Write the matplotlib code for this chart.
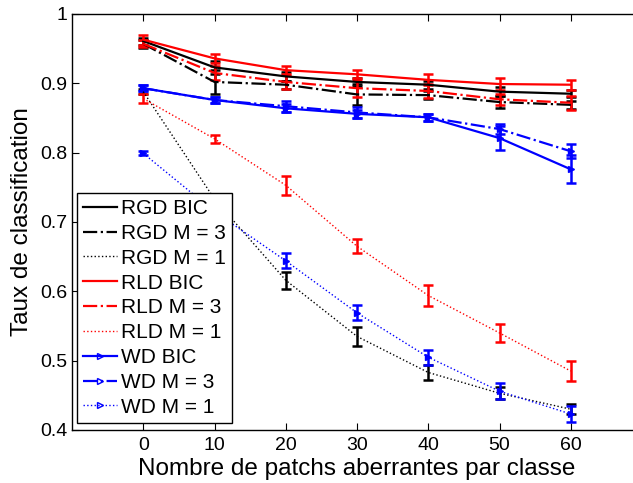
import matplotlib.pyplot as plt
from matplotlib.lines import Line2D

plt.rcParams['font.family'] = ['Liberation Sans', 'DejaVu Sans']

outliers = [0, 10, 20, 30, 40, 50, 60]

rgd_bic = [0.961, 0.923, 0.910, 0.902, 0.898, 0.888, 0.885]
rgd_bic_err = [0.005, 0.009, 0.006, 0.006, 0.006, 0.006, 0.005]
rgd_m3 = [0.957, 0.902, 0.898, 0.884, 0.883, 0.873, 0.869]
rgd_m3_err = [0.006, 0.017, 0.006, 0.015, 0.006, 0.009, 0.006]
rgd_m1 = [0.888, 0.733, 0.616, 0.535, 0.483, 0.453, 0.430]
rgd_m1_err = [0.004, 0.008, 0.012, 0.014, 0.011, 0.009, 0.007]

rld_bic = [0.963, 0.936, 0.919, 0.913, 0.905, 0.899, 0.898]
rld_bic_err = [0.007, 0.006, 0.006, 0.006, 0.008, 0.008, 0.007]
rld_m3 = [0.957, 0.915, 0.902, 0.893, 0.889, 0.877, 0.872]
rld_m3_err = [0.005, 0.010, 0.010, 0.012, 0.010, 0.008, 0.010]
rld_m1 = [0.878, 0.820, 0.753, 0.665, 0.594, 0.540, 0.485]
rld_m1_err = [0.007, 0.006, 0.014, 0.010, 0.015, 0.013, 0.015]

wd_bic = [0.893, 0.876, 0.864, 0.856, 0.851, 0.821, 0.776]
wd_bic_err = [0.004, 0.004, 0.006, 0.006, 0.005, 0.017, 0.020]
wd_m3 = [0.893, 0.876, 0.867, 0.858, 0.851, 0.834, 0.802]
wd_m3_err = [0.004, 0.004, 0.008, 0.008, 0.005, 0.007, 0.010]
wd_m1 = [0.799, 0.715, 0.644, 0.569, 0.505, 0.456, 0.423]
wd_m1_err = [0.003, 0.005, 0.011, 0.011, 0.011, 0.012, 0.011]

series = [
    ('RGD BIC', rgd_bic, rgd_bic_err, 'black', '-', None, 1.6),
    ('RGD M = 3', rgd_m3, rgd_m3_err, 'black', '-.', None, 1.6),
    ('RGD M = 1', rgd_m1, rgd_m1_err, 'black', ':', None, 1.0),
    ('RLD BIC', rld_bic, rld_bic_err, 'red', '-', None, 1.6),
    ('RLD M = 3', rld_m3, rld_m3_err, 'red', '-.', None, 1.6),
    ('RLD M = 1', rld_m1, rld_m1_err, 'red', ':', None, 1.0),
    ('WD BIC', wd_bic, wd_bic_err, 'blue', '-', '>', 1.6),
    ('WD M = 3', wd_m3, wd_m3_err, 'blue', '-.', '>', 1.6),
    ('WD M = 1', wd_m1, wd_m1_err, 'blue', ':', '>', 1.0),
]

fig = plt.figure(figsize=(6.33, 4.83), dpi=100)
ax = fig.add_axes([72 / 633, 53 / 483, 570 / 633, 416 / 483])

handles = []
for name, y, err, col, ls, mk, lw in series:
    ax.errorbar(outliers, y, yerr=err, color=col, ls=ls, lw=lw,
                marker=mk, ms=4, mfc=col, mec=col,
                ecolor=col, elinewidth=1.8, capsize=3.5, capthick=1.8)
    # legend entries show only the line style, not the error bars
    handles.append(Line2D([], [], color=col, ls=ls, lw=lw, marker=mk, ms=4,
                          mfc='none' if mk else None, mec=col, label=name))

ax.set_xlim(-10, 70)
ax.set_ylim(0.4, 1.0)
ax.set_xticks(outliers)
ax.set_yticks([0.4, 0.5, 0.6, 0.7, 0.8, 0.9, 1.0])
ax.set_yticklabels(['0.4', '0.5', '0.6', '0.7', '0.8', '0.9', '1'])
ax.tick_params(direction='in', length=5, labelsize=14, top=True, right=True)
ax.tick_params(axis='x', pad=5)
for sp in ax.spines.values():
    sp.set_linewidth(1.0)

ax.set_xlabel('Nombre de patchs aberrantes par classe', fontsize=17.5, labelpad=3)
ax.set_ylabel('Taux de classification', fontsize=17.5, labelpad=5)

leg = ax.legend(handles=handles, loc='lower left', bbox_to_anchor=(0.009, 0.017),
                fontsize=15, fancybox=False, framealpha=1, edgecolor='black',
                numpoints=1, handlelength=1.6, handletextpad=0.2,
                labelspacing=0.28, borderpad=0.3, borderaxespad=0)
leg.get_frame().set_linewidth(1.0)
leg.set_zorder(10)

fig.savefig('out.png', dpi=100)
